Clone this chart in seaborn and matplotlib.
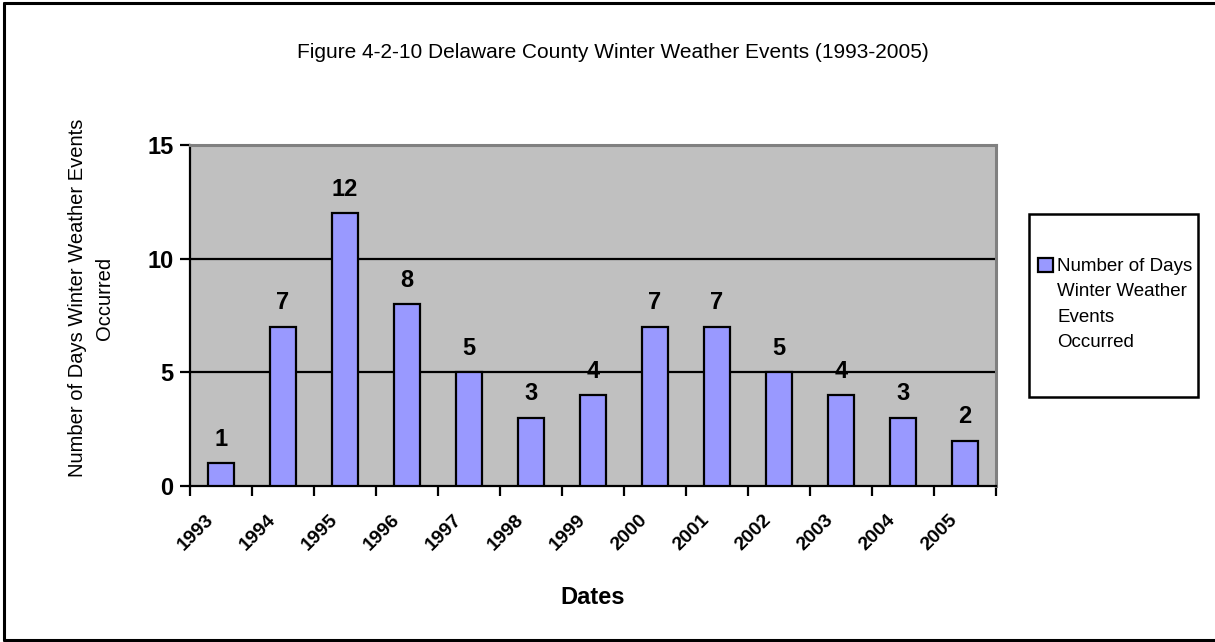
import matplotlib
matplotlib.use("Agg")
import matplotlib.pyplot as plt
import matplotlib.transforms as mtransforms
from matplotlib.patches import Rectangle, Patch
import seaborn as sns
import pandas as pd

years = ["1993", "1994", "1995", "1996", "1997", "1998", "1999",
         "2000", "2001", "2002", "2003", "2004", "2005"]
event_days = [1, 7, 12, 8, 5, 3, 4, 7, 7, 5, 4, 3, 2]
y_ticks = [0, 5, 10, 15]

title_text = "Figure 4-2-10 Delaware County Winter Weather Events (1993-2005)"
y_label = "Number of Days Winter Weather Events\nOccurred"
x_label = "Dates"
series_label = "Number of Days\nWinter Weather\nEvents\nOccurred"

sns.set_theme(style="white")
ARIAL = ["Liberation Sans", "DejaVu Sans"]
plt.rcParams["font.family"] = ARIAL
for key in ("text.color", "axes.labelcolor", "xtick.color", "ytick.color"):
    plt.rcParams[key] = "black"

W, H = 1215, 642
fig = plt.figure(figsize=(W / 100, H / 100), dpi=100)
fig.patch.set_facecolor("white")

# plot area, placed in pixel units
x0, x1, ytop, ybot = 190, 996, 145, 486
ax = fig.add_axes([x0 / W, 1 - ybot / H, (x1 - x0) / W, (ybot - ytop) / H])
ax.set_facecolor("#C0C0C0")

df = pd.DataFrame({"year": years, "days": event_days})
sns.barplot(data=df, x="year", y="days", color="#9999FF", saturation=1,
            edgecolor="black", linewidth=1.6, width=0.42, ax=ax, zorder=3)

ax.set_xlim(-0.5, len(years) - 0.5)
ax.set_ylim(0, 15)
ax.set_yticks(y_ticks)
ax.set_yticklabels([str(v) for v in y_ticks], fontsize=17, fontweight="bold")
for v in y_ticks[1:-1]:
    ax.axhline(v, color="black", lw=1.6, zorder=1)

# year labels sit under the bars, tick marks on the category boundaries
ax.set_xticks(range(len(years)))
ax.set_xticks([i - 0.5 for i in range(len(years) + 1)], minor=True)
ax.tick_params(axis="x", which="major", length=0, pad=18)
ax.tick_params(axis="x", which="minor", bottom=True, length=7, width=1.6,
               color="black", direction="out")
ax.tick_params(axis="y", left=True, length=7, width=1.6, color="black",
               direction="out", pad=5)
shift = mtransforms.ScaledTranslation(-4 / 100, 0, fig.dpi_scale_trans)
for lab in ax.get_xticklabels():
    lab.set_rotation(45)
    lab.set_ha("right")
    lab.set_fontsize(14)
    lab.set_fontweight("bold")
    lab.set_transform(lab.get_transform() + shift)

ax.set_xlabel("")
ax.set_ylabel("")

for side in ("left", "bottom"):
    ax.spines[side].set_color("black")
    ax.spines[side].set_linewidth(1.6)
for side in ("top", "right"):
    ax.spines[side].set_color("#808080")
    ax.spines[side].set_linewidth(2.2)
    ax.spines[side].set_visible(True)

ax.bar_label(ax.containers[0], labels=[str(v) for v in event_days],
             padding=9, fontsize=17, fontweight="bold")

fig.text(613 / W, 1 - 52 / H, title_text, ha="center", va="center",
         fontsize=15)
fig.text(91 / W, 1 - 298 / H, y_label, ha="center", va="center",
         rotation=90, fontsize=14.5, linespacing=1.47)
fig.text(593 / W, 1 - 598 / H, x_label, ha="center", va="center",
         fontsize=17, fontweight="bold")

# legend: white framed box with the series swatch and wrapped label
fig.add_artist(Rectangle((1029 / W, 1 - 397 / H), 169 / W, 183 / H,
                         transform=fig.transFigure, facecolor="white",
                         edgecolor="black", lw=1.8, zorder=1))
handle = Patch(facecolor="#9999FF", edgecolor="black", lw=1.6)
leg = fig.legend([handle], [series_label], loc="upper left",
                 bbox_to_anchor=(1038 / W, 1 - 258 / H), frameon=False,
                 prop={"size": 13.5},
                 handlelength=0.78, handleheight=0.78, handletextpad=0.25,
                 borderpad=0, borderaxespad=0)
for t in leg.get_texts():
    t.set_linespacing(1.65)
for col in leg._legend_handle_box.get_children():
    for row in col.get_children():
        row.align = "top"

# outer chart frame
for (xa, ya), (xb, yb) in [((4, 3), (1215, 3)), ((4, 3), (4, 640)),
                           ((4, 640), (1215, 640))]:
    fig.add_artist(plt.Line2D([xa / W, xb / W], [1 - ya / H, 1 - yb / H],
                              transform=fig.transFigure, color="black",
                              lw=2.2))

fig.savefig("out.png", dpi=100)
